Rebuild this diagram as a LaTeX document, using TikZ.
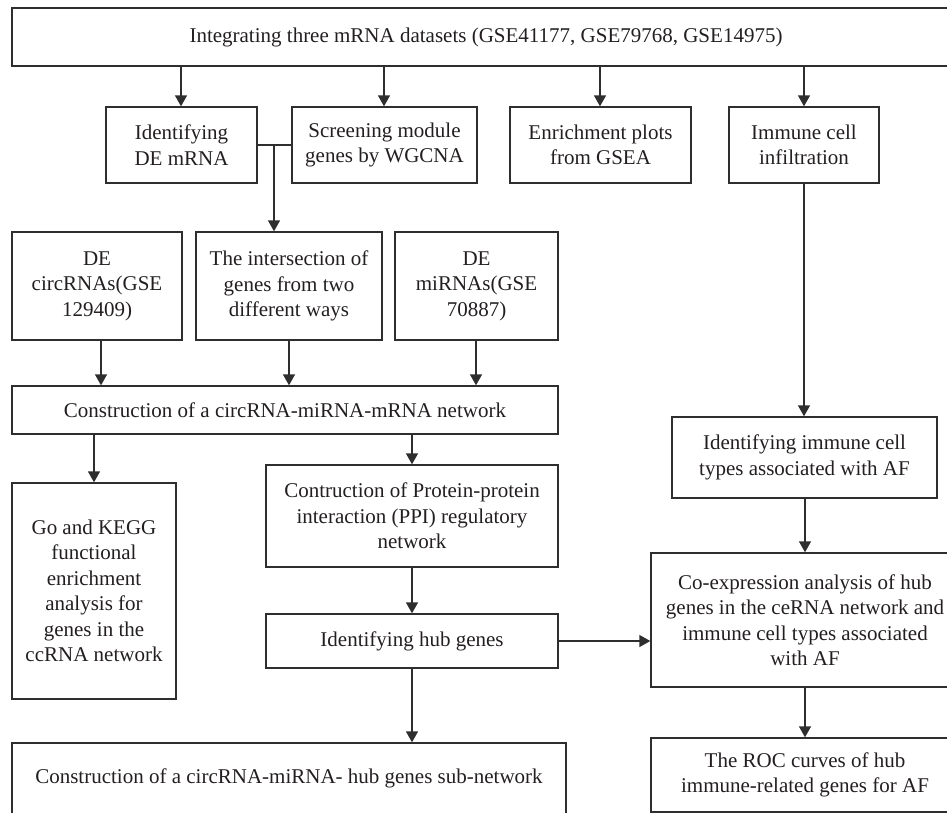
\documentclass[tikz,border=0pt]{standalone}
\usepackage{fontspec}
\setmainfont{Liberation Serif}
\usetikzlibrary{arrows.meta}
\definecolor{lncol}{HTML}{2E2E2E}
\definecolor{txcol}{HTML}{231F20}
\begin{document}
\begin{tikzpicture}[x=1pt,y=-1pt,
  box/.style={draw=lncol, line width=1.4pt, align=center, inner sep=0pt, text=txcol,
    font=\fontsize{21}{25.5}\selectfont, anchor=center},
  arr/.style={draw=lncol, line width=1.4pt, -{Triangle[width=12pt,length=11pt]}},
  plain/.style={draw=lncol, line width=1.4pt}]
\useasboundingbox (0,0) rectangle (947,812);
% row 1
\node[box, minimum width=948pt, minimum height=58pt] (top) at (486,37) {Integrating three mRNA datasets (GSE41177, GSE79768, GSE14975)};
% row 2
\node[box, minimum width=151pt, minimum height=76pt] (b1) at (181.5,145) {Identifying\\DE mRNA};
\node[box, minimum width=185pt, minimum height=76pt] (b2) at (384.5,145) {Screening module\\genes by WGCNA};
\node[box, minimum width=181pt, minimum height=76pt] (b3) at (600.5,145) {Enrichment plots\\from GSEA};
\node[box, minimum width=150pt, minimum height=76pt] (b4) at (804,145) {Immune cell\\infiltration};
% row 3
\node[box, minimum width=170pt, minimum height=108pt] (ra) at (97,286) {DE\\circRNAs(GSE\\129409)};
\node[box, minimum width=186pt, minimum height=108pt] (rb) at (289,286) {The intersection of\\genes from two\\different ways};
\node[box, minimum width=163pt, minimum height=108pt] (rc) at (476.5,286) {DE\\miRNAs(GSE\\70887)};
% network
\node[box, minimum width=546pt, minimum height=48pt] (net) at (285,410) {Construction of a circRNA-miRNA-mRNA network};
\node[box, minimum width=164pt, minimum height=216pt] (go) at (94,591) {Go and KEGG\\functional\\enrichment\\analysis for\\genes in the\\ccRNA network};
\node[box, minimum width=292pt, minimum height=102pt] (ppi) at (412,516) {Contruction of Protein-protein\\interaction (PPI) regulatory\\network};
\node[box, minimum width=292pt, minimum height=54pt] (hub) at (412,641) {Identifying hub genes};
\node[box, minimum width=554pt, minimum height=71pt] (sub) at (289,778.5) {Construction of a circRNA-miRNA- hub genes sub-network};
% right column
\node[box, minimum width=265pt, minimum height=81pt] (imm) at (804.5,457.5) {Identifying immune cell\\types associated with AF};
\node[box, minimum width=308pt, minimum height=134pt] (co) at (805,620) {Co-expression analysis of hub\\genes in the ceRNA network and\\immune cell types associated\\with AF};
\node[box, minimum width=308pt, minimum height=74pt] (roc) at (805,775) {The ROC curves of hub\\immune-related genes for AF};
% x positions
\coordinate (x1) at (181,0);
\coordinate (x2) at (384,0);
\coordinate (x3) at (600,0);
\coordinate (x4) at (804,0);
\coordinate (xa) at (101,0);
\coordinate (xb) at (289,0);
\coordinate (xc) at (476,0);
\coordinate (xg) at (94,0);
\coordinate (j) at (274,145);
% connectors
\draw[arr] (top.south -| x1) -- (b1.north -| x1);
\draw[arr] (top.south -| x2) -- (b2.north -| x2);
\draw[arr] (top.south -| x3) -- (b3.north -| x3);
\draw[arr] (top.south -| x4) -- (b4.north -| x4);
\draw[plain] (b1.east) -- (b2.west);
\draw[arr] (j) -- (j |- rb.north);
\draw[arr] (ra.south -| xa) -- (net.north -| xa);
\draw[arr] (rb.south -| xb) -- (net.north -| xb);
\draw[arr] (rc.south -| xc) -- (net.north -| xc);
\draw[arr] (net.south -| xg) -- (go.north -| xg);
\draw[arr] (net.south -| ppi.north) -- (ppi.north);
\draw[arr] (ppi.south) -- (hub.north);
\draw[arr] (hub.south) -- (hub.south |- sub.north);
\draw[arr] (hub.east) -- (hub.east -| co.west);
\draw[arr] (b4.south) -- (b4.south |- imm.north);
\draw[arr] (imm.south -| co.north) -- (co.north);
\draw[arr] (co.south) -- (roc.north);
\end{tikzpicture}
\end{document}
